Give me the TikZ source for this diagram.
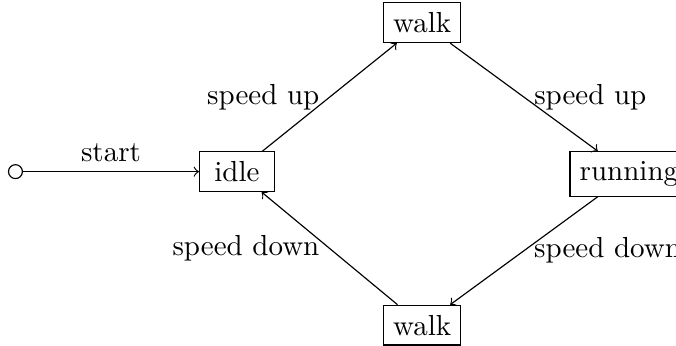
\documentclass[tikz,border=0pt]{standalone}
\usepackage{tikz}
\usetikzlibrary{positioning}

\tikzset{state/.style={draw,rectangle,minimum width=25.8pt}}

\begin{document}
\begin{tikzpicture}[node distance=1.309cm and 1.309cm]
\useasboundingbox (-2.872,-2.102) rectangle (5.321,2.08);
\node[state] (idle) at (0,0) {idle};
\node[state,above right=of idle] (walkup) {walk};
\node[state,below right=of walkup] (running) {running};
\node[state,below left=of running] (walkdown) {walk};
\node[draw,circle,inner sep=0pt,minimum size=4.8pt,left=2.133cm of idle] (init) {};

\draw[->] (init) -- node[above] {start} (idle);
\draw[->] (idle) -- node[left] {speed up} (walkup);
\draw[->] (walkup) -- node[right] {speed up} (running);
\draw[->] (running) -- node[right] {speed down} (walkdown);
\draw[->] (walkdown) -- node[left] {speed down} (idle);
\end{tikzpicture}
\end{document}
